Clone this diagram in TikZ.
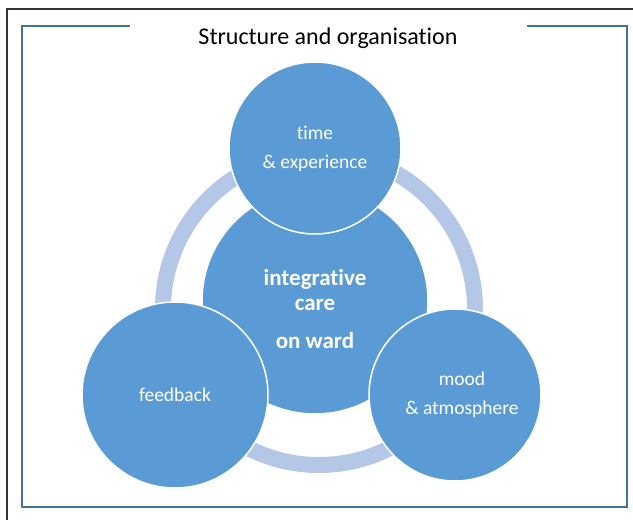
\documentclass[tikz,border=0pt]{standalone}
\usepackage{fontspec}
\setmainfont[Ligatures=CommonOff]{Carlito}
\definecolor{cblue}{HTML}{5B9BD5}
\definecolor{rblue}{HTML}{B4C7E7}
\definecolor{fblue}{HTML}{41719C}
\begin{document}
\begin{tikzpicture}[x=1pt,y=-1pt,
  bub/.style={circle,fill=cblue,draw=white,line width=1.5pt,inner sep=0pt},
  lbl/.style={text=white,font=\fontsize{19.5}{23}\selectfont,align=center},
  clbl/.style={text=white,font=\bfseries\fontsize{23}{27}\selectfont,align=center}]
\useasboundingbox (0,0) rectangle (633,520);
\fill[white] (0,0) rectangle (633,520);
% outer frame
\draw[black!80,line width=1.2pt] (7,520) -- (7,9) -- (633,9);
% inner blue frame
\draw[fblue,line width=1.6pt] (130,26) -- (22,26) -- (22,507) -- (627,507) -- (627,26) -- (527,26);
\node[font=\fontsize{24}{28}\selectfont] (title) at (328,38) {Structure and organisation};
% ring
\draw[rblue,line width=16pt] (319,309) circle[radius=156];
% circles
\node[bub,minimum size=226pt] (center) at (315,301) {};
\node[bub,minimum size=172pt] (top) at (315,148) {};
\node[bub,minimum size=186pt] (left) at (175,395) {};
\node[bub,minimum size=172pt] (right) at (455,395) {};
% labels
\node[lbl] (t1) at (315,133) {time};
\node[lbl] (t2) at (315,163) {\& experience};
\node[clbl] (c1) at (315,279) {integrative};
\node[clbl] (c2) at (315,305) {care};
\node[clbl] (c3) at (315,341) {on ward};
\node[lbl] (l1) at (175,395) {feedback};
\node[lbl] (r1) at (462,379) {mood};
\node[lbl] (r2) at (462,409) {\& atmosphere};
\end{tikzpicture}
\end{document}
